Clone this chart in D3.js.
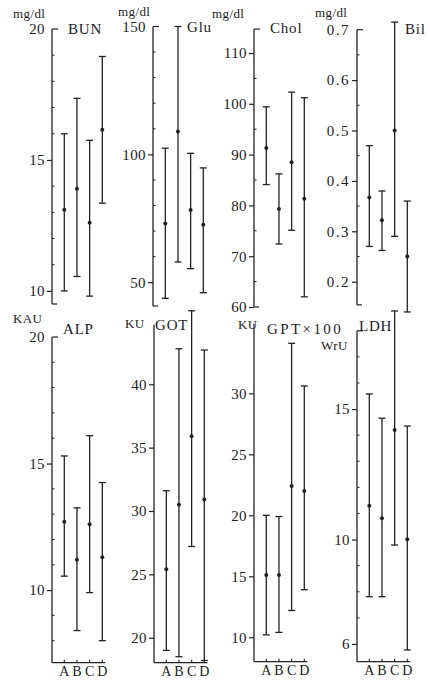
<!DOCTYPE html>
<html>
<head>
<meta charset="utf-8">
<script src="https://cdn.jsdelivr.net/npm/d3@7"></script>
<style>
  body { margin: 0; background: #fff; }
  svg { display: block; }
  svg text { font-family: "Liberation Serif", "DejaVu Serif", serif; }
</style>
</head>
<body>
<div id="graph"></div>
<script>
const categories = ['A', 'B', 'C', 'D']

// values: mean, lower and upper end of each bar
const bunMean = [13.1, 13.9, 12.6, 16.15]
const bunLow = [10.0, 10.55, 9.8, 13.35]
const bunHigh = [16.0, 17.35, 15.75, 18.95]
const bunTicks = [10, 15, 20]

const gluMean = [73.0, 108.9, 78.2, 72.5]
const gluLow = [43.7, 57.9, 55.3, 45.9]
const gluHigh = [102.4, 150, 100.4, 94.7]
const gluTicks = [50, 100, 150]

const cholMean = [91.3, 79.3, 88.5, 81.3]
const cholLow = [84.1, 72.4, 75.1, 62.0]
const cholHigh = [99.4, 86.2, 102.3, 101.2]
const cholTicks = [60, 70, 80, 90, 100, 110]

const bilMean = [0.367, 0.322, 0.50, 0.25]
const bilLow = [0.27, 0.262, 0.29, 0.14]
const bilHigh = [0.47, 0.38, 0.715, 0.36]
const bilTicks = [0.2, 0.3, 0.4, 0.5, 0.6, 0.7]

const alpMean = [12.7, 11.2, 12.6, 11.3]
const alpLow = [10.55, 8.4, 9.9, 8.0]
const alpHigh = [15.3, 13.25, 16.1, 14.25]
const alpTicks = [10, 15, 20]

const gotMean = [25.4, 30.5, 35.9, 30.9]
const gotLow = [19.0, 18.5, 27.2, 18.2]
const gotHigh = [31.6, 42.8, 45.8, 42.7]
const gotTicks = [20, 25, 30, 35, 40]

const gptMean = [15.1, 15.1, 22.4, 22.0]
const gptLow = [10.2, 10.4, 12.2, 13.9]
const gptHigh = [20.0, 19.9, 34.1, 30.6]
const gptTicks = [10, 15, 20, 25, 30]

const ldhMean = [11.3, 10.82, 14.2, 10.01]
const ldhLow = [7.81, 7.81, 9.79, 5.77]
const ldhHigh = [15.58, 14.65, 18.76, 14.35]
const ldhTicks = [6, 10, 15]

const ink = '#222'

const panels = [
  { title: 'BUN', units: ['mg/dl'], mean: bunMean, low: bunLow, high: bunHigh, ticks: bunTicks,
    axisX: 52, domain: [9.5, 20], range: [304, 29], minor: 1, fmt: 'd',
    titlePos: [68, 34], unitPos: [[13, 18]], feet: [true, true], xAxis: false },
  { title: 'Glu', units: ['mg/dl'], mean: gluMean, low: gluLow, high: gluHigh, ticks: gluTicks,
    axisX: 153, domain: [40.7, 150], range: [306, 26.5], minor: 10, fmt: 'd',
    titlePos: [187, 32], unitPos: [[118, 15.5]], feet: [true, true], xAxis: false },
  { title: 'Chol', units: ['mg/dl'], mean: cholMean, low: cholLow, high: cholHigh, ticks: cholTicks,
    axisX: 254, domain: [60, 114.7], range: [307, 29.1], minor: 5, fmt: 'd',
    titlePos: [270, 33], unitPos: [[212, 18]], feet: [true, true], xAxis: false },
  { title: 'Bil', units: ['mg/dl'], mean: bilMean, low: bilLow, high: bilHigh, ticks: bilTicks,
    axisX: 357, domain: [0.154, 0.7], range: [304.9, 29.7], minor: 0.05, fmt: '.1f',
    titlePos: [405, 34], unitPos: [[315, 16.5]], feet: [true, true], xAxis: false },
  { title: 'ALP', units: ['KAU'], mean: alpMean, low: alpLow, high: alpHigh, ticks: alpTicks,
    axisX: 52, domain: [7.13, 20], range: [662.7, 337], minor: 1, fmt: 'd',
    titlePos: [63, 333.5], unitPos: [[13, 323]], feet: [false, true], xAxis: true },
  { title: 'GOT', units: ['KU'], mean: gotMean, low: gotLow, high: gotHigh, ticks: gotTicks,
    axisX: 154, domain: [18.03, 44.7], range: [662.7, 324.7], minor: 0, fmt: 'd',
    titlePos: [155, 330], unitPos: [[125, 328]], feet: [false, false], xAxis: true },
  { title: 'GPT×100', units: ['KU'], mean: gptMean, low: gptLow, high: gptHigh, ticks: gptTicks,
    axisX: 254, domain: [8.0, 35.7], range: [661.7, 323.8], minor: 0, fmt: 'd',
    titlePos: [267, 334], unitPos: [[238, 329]], feet: [false, false], xAxis: true },
  { title: 'LDH', units: ['WrU'], mean: ldhMean, low: ldhLow, high: ldhHigh, ticks: ldhTicks,
    axisX: 357, domain: [5.32, 18], range: [661.7, 330.8], minor: 1, fmt: 'd',
    titlePos: [359, 330.5], unitPos: [[321, 350]], feet: [false, true], xAxis: true }
]

const svg = d3.select('#graph').append('svg')
  .attr('width', 430)
  .attr('height', 680)

panels.forEach((p) => {
  const g = svg.append('g')
  const y = d3.scaleLinear().domain(p.domain).range(p.range)
  const x = d3.scalePoint().domain(categories).range([p.axisX + 12.3, p.axisX + 50.3])
  const yBot = y(p.domain[0])
  const yTop = y(p.domain[1])

  // vertical axis
  g.append('line')
    .attr('x1', p.axisX).attr('x2', p.axisX)
    .attr('y1', yBot).attr('y2', yTop)
    .attr('stroke', ink).attr('stroke-width', 1.3)

  // bracket feet at the ends
  if (p.feet[0]) {
    g.append('line').attr('x1', p.axisX).attr('x2', p.axisX + 5)
      .attr('y1', yBot).attr('y2', yBot).attr('stroke', ink).attr('stroke-width', 1.2)
  }
  if (p.feet[1]) {
    g.append('line').attr('x1', p.axisX).attr('x2', p.axisX + 6)
      .attr('y1', yTop).attr('y2', yTop).attr('stroke', ink).attr('stroke-width', 1.2)
  }

  // minor ticks, small, on the inside
  if (p.minor) {
    const minors = d3.range(Math.ceil(p.domain[0] / p.minor) * p.minor, p.domain[1] - 1e-6, p.minor)
      .filter((v) => !p.ticks.some((t) => Math.abs(t - v) < 1e-6))
    g.selectAll('.minor').data(minors).join('line')
      .attr('class', 'minor')
      .attr('x1', p.axisX).attr('x2', p.axisX + 2.5)
      .attr('y1', (d) => y(d)).attr('y2', (d) => y(d))
      .attr('stroke', ink).attr('stroke-width', 1)
  }

  // labelled ticks
  const axis = d3.axisLeft(y)
    .tickValues(p.ticks)
    .tickSize(5)
    .tickPadding(2)
    .tickFormat(d3.format(p.fmt))
  const ag = g.append('g')
    .attr('transform', `translate(${p.axisX},0)`)
    .call(axis)
    .attr('font-size', 15)
  ag.select('.domain').remove()
  ag.selectAll('.tick line')
    .attr('stroke', ink)
    .attr('stroke-width', 1.2)
    .attr('x2', (d) => (Math.abs(d - p.domain[1]) < 1e-6 ? 0 : -5))
  ag.selectAll('.tick text')
    .attr('fill', ink)
    .attr('letter-spacing', p.fmt === '.1f' ? 1.5 : 0.4)

  // bottom axis with categories
  if (p.xAxis) {
    g.append('line')
      .attr('x1', p.axisX).attr('x2', x('D') + 3)
      .attr('y1', yBot).attr('y2', yBot)
      .attr('stroke', ink).attr('stroke-width', 1.2)
    g.selectAll('.ctick').data(categories).join('line')
      .attr('class', 'ctick')
      .attr('x1', (d) => x(d)).attr('x2', (d) => x(d))
      .attr('y1', yBot).attr('y2', yBot - 3)
      .attr('stroke', ink).attr('stroke-width', 1.1)
    g.selectAll('.clabel').data(categories).join('text')
      .attr('class', 'clabel')
      .attr('x', (d) => x(d))
      .attr('y', yBot + 13.5)
      .attr('text-anchor', 'middle')
      .attr('font-size', 14)
      .attr('fill', ink)
      .text((d) => d)
  }

  // error bars
  const bars = categories.map((c, i) => ({ c, mean: p.mean[i], low: p.low[i], high: p.high[i] }))
  const bg = g.selectAll('.bar').data(bars).join('g').attr('class', 'bar')
  bg.append('line')
    .attr('x1', (d) => x(d.c)).attr('x2', (d) => x(d.c))
    .attr('y1', (d) => y(d.low)).attr('y2', (d) => y(d.high))
    .attr('stroke', ink).attr('stroke-width', 1.3)
  bg.append('line')
    .attr('x1', (d) => x(d.c) - 3.5).attr('x2', (d) => x(d.c) + 3.5)
    .attr('y1', (d) => y(d.low)).attr('y2', (d) => y(d.low))
    .attr('stroke', ink).attr('stroke-width', 1.3)
  bg.append('line')
    .attr('x1', (d) => x(d.c) - 3.5).attr('x2', (d) => x(d.c) + 3.5)
    .attr('y1', (d) => y(d.high)).attr('y2', (d) => y(d.high))
    .attr('stroke', ink).attr('stroke-width', 1.3)
  bg.append('circle')
    .attr('cx', (d) => x(d.c))
    .attr('cy', (d) => y(d.mean))
    .attr('r', 2)
    .attr('fill', ink)

  // title and units
  g.append('text')
    .attr('x', p.titlePos[0]).attr('y', p.titlePos[1])
    .attr('font-size', 15)
    .attr('letter-spacing', p.title.length > 4 ? 2.4 : 0.8)
    .attr('fill', ink)
    .text(p.title)
  p.units.forEach((u, i) => {
    g.append('text')
      .attr('x', p.unitPos[i][0]).attr('y', p.unitPos[i][1])
      .attr('font-size', 13)
      .attr('letter-spacing', 0.4)
      .attr('fill', ink)
      .text(u)
  })
})
</script>
</body>
</html>
